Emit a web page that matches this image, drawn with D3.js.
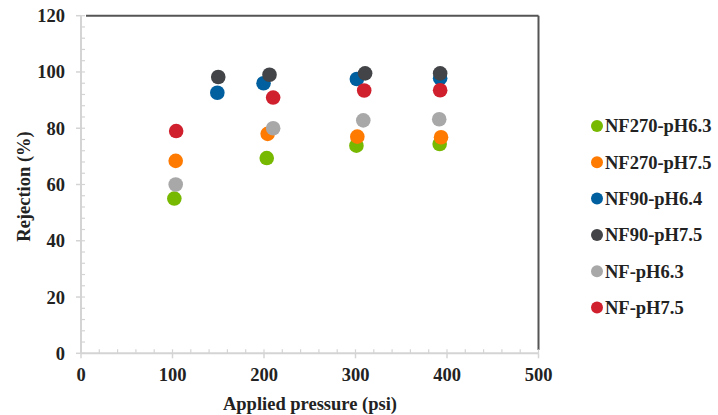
<!DOCTYPE html>
<html>
<head>
<meta charset="UTF-8" />
<title>Rejection vs applied pressure</title>
<script src="https://d3js.org/d3.v7.min.js"></script>
<style>
  body { margin: 0; background: #fff; }
  text { font-family: "Liberation Serif", "Times New Roman", serif; font-weight: bold; fill: #222; }
</style>
</head>
<body>
<svg id="chart" width="718" height="415"></svg>
<script>
// series names + colours
const seriesNames = ['NF270-pH6.3', 'NF270-pH7.5', 'NF90-pH6.4', 'NF90-pH7.5', 'NF-pH6.3', 'NF-pH7.5'];
const seriesColors = ['#77b800', '#ff7a00', '#005f9e', '#424447', '#a8a8a8', '#d0202e'];

// pressure (psi) for each series
const pressures = [
  [102, 203, 301, 392],
  [103.5, 204, 302, 393.5],
  [149, 199.5, 301.5, 392.5],
  [150, 206, 310.5, 392.5],
  [103.5, 210, 308.5, 391.5],
  [104, 210, 309.5, 392.5]
];
// rejection (%) for each series
const rejections = [
  [55.0, 69.4, 73.8, 74.4],
  [68.4, 78.0, 77.0, 76.8],
  [92.6, 96.0, 97.5, 97.8],
  [98.2, 99.0, 99.5, 99.5],
  [60.0, 80.0, 82.8, 83.2],
  [79.0, 90.9, 93.4, 93.5]
];

const xTicks = [0, 100, 200, 300, 400, 500];
const yTicks = [0, 20, 40, 60, 80, 100, 120];

const svg = d3.select('#chart');
const plotL = 81, plotR = 538.5, plotT = 15.7, plotB = 353.3;

const x = d3.scaleLinear().domain([0, 500]).range([plotL, plotR]);
const y = d3.scaleLinear().domain([0, 120]).range([plotB, plotT]);

const axisColor = '#d4d4d4';

// frame top + right (dark)
svg.append('line').attr('x1', 86).attr('x2', plotR).attr('y1', plotT).attr('y2', plotT)
  .attr('stroke', '#555').attr('stroke-width', 2);
svg.append('line').attr('x1', plotR).attr('x2', plotR).attr('y1', plotT).attr('y2', 350)
  .attr('stroke', '#555').attr('stroke-width', 2);

// y axis
const yAxis = svg.append('g');
yAxis.append('line').attr('x1', plotL).attr('x2', plotL).attr('y1', plotT).attr('y2', plotB)
  .attr('stroke', axisColor).attr('stroke-width', 2);
yAxis.selectAll('line.minor').data(d3.range(0, 121, 4)).join('line').attr('class', 'minor')
  .attr('x1', plotL).attr('x2', plotL + 4).attr('y1', d => y(d)).attr('y2', d => y(d))
  .attr('stroke', axisColor).attr('stroke-width', 1.2);
yAxis.selectAll('line.major').data(yTicks).join('line').attr('class', 'major')
  .attr('x1', plotL - 5).attr('x2', plotL).attr('y1', d => y(d)).attr('y2', d => y(d))
  .attr('stroke', axisColor).attr('stroke-width', 1.5);
yAxis.selectAll('text').data(yTicks).join('text')
  .attr('x', 65).attr('y', d => y(d)).attr('dy', '0.35em').attr('text-anchor', 'end')
  .attr('font-size', 18.5).text(d => d);

// x axis
const xAxis = svg.append('g');
xAxis.append('line').attr('x1', plotL).attr('x2', plotR).attr('y1', plotB).attr('y2', plotB)
  .attr('stroke', axisColor).attr('stroke-width', 2);
xAxis.selectAll('line.minor').data(d3.range(0, 501, 20)).join('line').attr('class', 'minor')
  .attr('x1', d => x(d)).attr('x2', d => x(d)).attr('y1', plotB - 4).attr('y2', plotB)
  .attr('stroke', axisColor).attr('stroke-width', 1.2);
xAxis.selectAll('line.major').data(xTicks).join('line').attr('class', 'major')
  .attr('x1', d => x(d)).attr('x2', d => x(d)).attr('y1', plotB).attr('y2', plotB + 5)
  .attr('stroke', axisColor).attr('stroke-width', 1.5);
xAxis.selectAll('text').data(xTicks).join('text')
  .attr('x', d => x(d)).attr('y', 381).attr('text-anchor', 'middle')
  .attr('font-size', 18.5).text(d => d);

// axis titles
svg.append('text').attr('x', 310).attr('y', 410).attr('text-anchor', 'middle')
  .attr('font-size', 18.5).text('Applied pressure (psi)');
svg.append('text').attr('transform', `translate(30,${(plotT + plotB) / 2 + 2}) rotate(-90)`)
  .attr('text-anchor', 'middle').attr('font-size', 18.5).text('Rejection (%)');

// points
seriesNames.forEach((name, i) => {
  const pts = pressures[i].map((p, j) => ({ p, r: rejections[i][j] }));
  svg.append('g').selectAll('circle').data(pts).join('circle')
    .attr('cx', d => x(d.p)).attr('cy', d => y(d.r)).attr('r', 7.3)
    .attr('fill', seriesColors[i]);
});

// legend
const legend = svg.append('g').attr('transform', 'translate(597,126)');
const item = legend.selectAll('g').data(seriesNames).join('g')
  .attr('transform', (d, i) => `translate(0,${i * 36.3})`);
item.append('circle').attr('r', 6).attr('fill', (d, i) => seriesColors[i]);
item.append('text').attr('x', 8).attr('dy', '0.35em').attr('font-size', 18.5).text(d => d);
</script>
</body>
</html>
